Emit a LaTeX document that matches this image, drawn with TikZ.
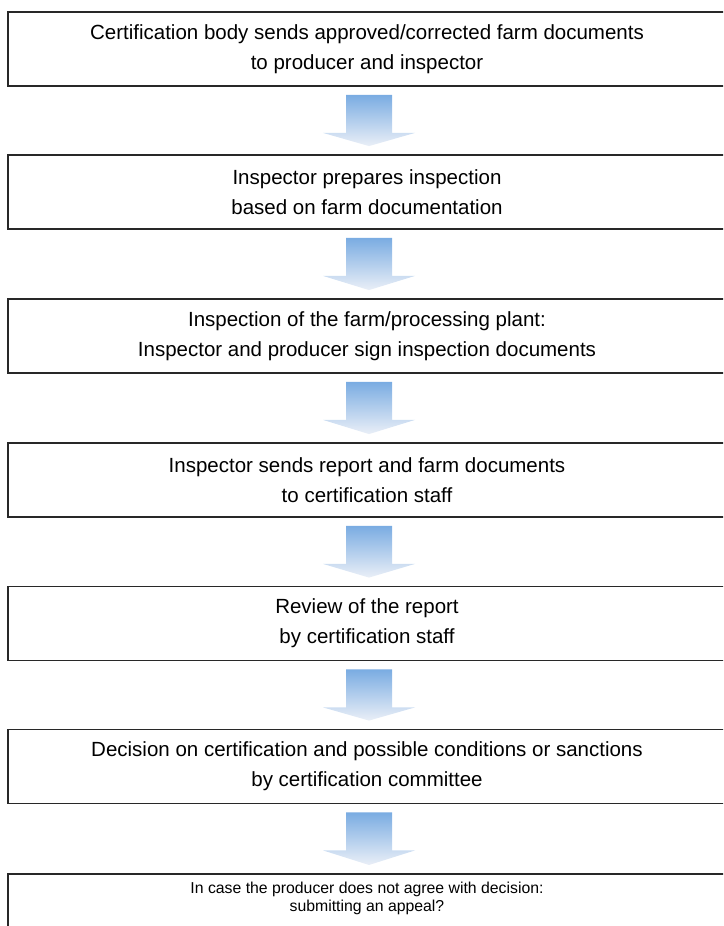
\documentclass[tikz,border=0pt]{standalone}
\usepackage{fontspec}
\setmainfont{Liberation Sans}
\usetikzlibrary{calc}

\newlength{\du}
\setlength{\du}{1pt}

\definecolor{arrowtop}{RGB}{122,172,226}
\definecolor{arrowbottom}{RGB}{234,239,247}
\definecolor{boxline}{RGB}{40,40,40}

\tikzset{
  stepbox/.style={draw=boxline, line width=1.8\du, fill=white,
    minimum width=718\du, minimum height=74\du, inner sep=0pt,
    align=center, font=\fontsize{20.5}{30}\selectfont},
  lastbox/.style={draw=boxline, line width=1.8\du, fill=white,
    minimum width=718\du, inner sep=0pt, anchor=north,
    text height=38\du, text depth=40\du,
    align=center, font=\fontsize{15.8}{18.8}\selectfont},
  flowshade/.style={top color=arrowtop, bottom color=arrowbottom}
}

% block arrow between two steps
\newcommand{\flowarrow}[2]{%
\shade[flowshade] ($(#1.south)+(-21\du,8\du)$)--($(#1.south)+(25\du,8\du)$)--($(#1.south)+(25\du,46\du)$)--($(#1.south)+(48\du,46\du)$)--($(#2.north)+(2\du,-8\du)$)--($(#1.south)+(-44\du,46\du)$)--($(#1.south)+(-21\du,46\du)$)--cycle;}

\begin{document}
\begin{tikzpicture}[yscale=-1]
\path[use as bounding box] (0\du,0\du) rectangle (723\du,926\du);
\clip (0\du,0\du) rectangle (723\du,926\du);
% steps
\node[stepbox] (certbody) at (367\du,49\du){Certification body sends approved/corrected farm documents\\to producer and inspector};
\node[stepbox] (prepare) at (367\du,192\du){Inspector prepares inspection\\based on farm documentation};
\node[stepbox] (inspect) at (367\du,336\du){Inspection of the farm/processing plant:\\Inspector and producer sign inspection documents};
\node[stepbox] (report) at (367\du,480\du){Inspector sends report and farm documents\\to certification staff};
\node[stepbox] (review) at (367\du,623.5\du){Review of the report\\by certification staff};
\node[stepbox] (decision) at (367\du,766.5\du){Decision on certification and possible conditions or sanctions\\by certification committee};
\node[lastbox] (appeal) at (367\du,873\du){In case the producer does not agree with decision:\\submitting an appeal?};
% arrows
\flowarrow{certbody}{prepare}
\flowarrow{prepare}{inspect}
\flowarrow{inspect}{report}
\flowarrow{report}{review}
\flowarrow{review}{decision}
\flowarrow{decision}{appeal}
\end{tikzpicture}
\end{document}
